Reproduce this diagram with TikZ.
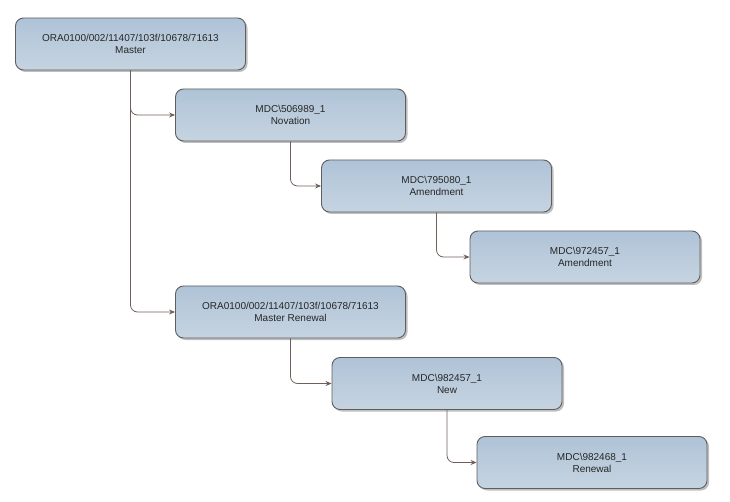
\documentclass[tikz,border=0pt]{standalone}
\usepackage{fontspec}
\setmainfont{Liberation Sans}
\usetikzlibrary{shadows,arrows.meta}
\definecolor{boxtop}{HTML}{AFC3D7}
\definecolor{boxbot}{HTML}{C6D4E1}
\definecolor{boxline}{HTML}{5E5E5E}
\definecolor{conn}{HTML}{6F5F5B}
\tikzset{
  docbox/.style={rectangle, rounded corners=8pt, draw=boxline, line width=0.9pt,
    top color=boxtop, bottom color=boxbot, minimum width=230pt, minimum height=52pt,
    align=center, inner sep=0pt, font=\fontsize{10}{12}\selectfont, text=black!85,
    drop shadow={shadow xshift=2pt, shadow yshift=-2pt, opacity=0.25, fill=black}},
  link/.style={draw=conn, line width=0.8pt, rounded corners=7pt,
    -{Stealth[length=6pt,width=5pt]}}
}
\begin{document}
\begin{tikzpicture}[x=1pt,y=-1pt]
\useasboundingbox (0,0) rectangle (730,502);
\node[docbox] (b1) at (130.5,44) {ORA0100/002/11407/103f/10678/71613\\Master};
\node[docbox] (b2) at (290.5,115) {MDC\textbackslash 506989\_1\\Novation};
\node[docbox] (b3) at (436.5,186) {MDC\textbackslash 795080\_1\\Amendment};
\node[docbox] (b4) at (585,257) {MDC\textbackslash 972457\_1\\Amendment};
\node[docbox] (b5) at (290.5,312) {ORA0100/002/11407/103f/10678/71613\\Master Renewal};
\node[docbox] (b6) at (447,383.5) {MDC\textbackslash 982457\_1\\New};
\node[docbox] (b7) at (592,462.5) {MDC\textbackslash 982468\_1\\Renewal};
\draw[link] (b1.south) |- (b2.west);
\draw[link] (b1.south) |- (b5.west);
\draw[link] (b2.south) |- (b3.west);
\draw[link] (b3.south) |- (b4.west);
\draw[link] (b5.south) |- (b6.west);
\draw[link] (b6.south) |- (b7.west);
\end{tikzpicture}
\end{document}
